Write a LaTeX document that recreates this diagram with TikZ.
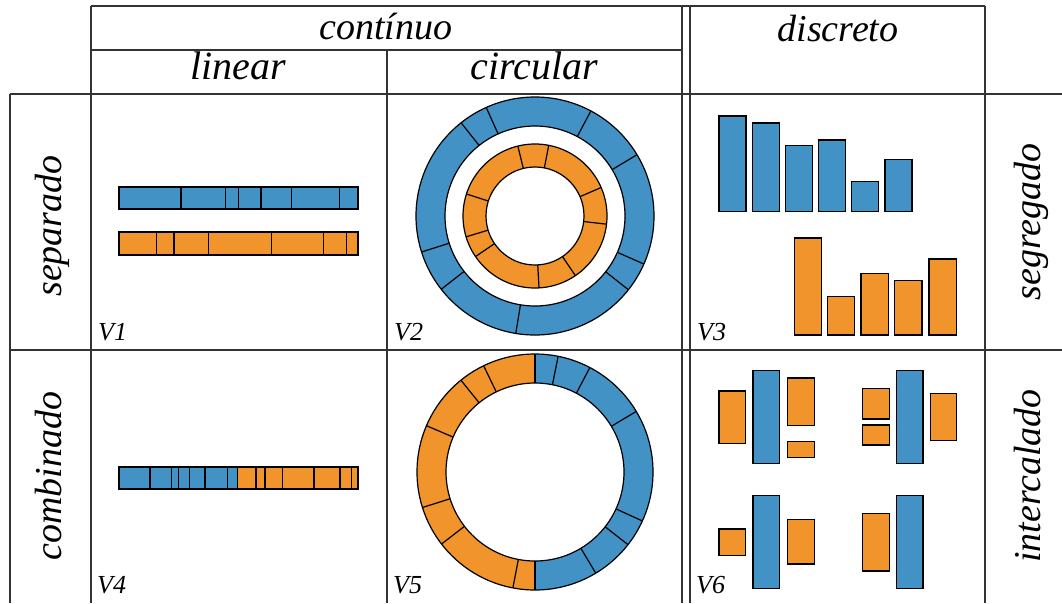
\documentclass[tikz,border=0pt]{standalone}
\usepackage{fontspec}
\setmainfont{Liberation Serif}
\definecolor{vblue}{HTML}{4292C6}
\definecolor{vorange}{HTML}{F1942B}
\definecolor{gridc}{HTML}{333333}
\tikzset{
  gridline/.style={line width=1.3pt, draw=gridc},
  outl/.style={line width=1.2pt, draw=black},
  rowlbl/.style={font=\fontsize{38}{40}\selectfont\itshape, inner sep=0pt, anchor=base, rotate=90},
  hdr/.style={font=\fontsize{38}{40}\selectfont\itshape, inner sep=0pt, anchor=base},
  subhdr/.style={font=\fontsize{40}{42}\selectfont\itshape, inner sep=0pt, anchor=base},
  vlbl/.style={font=\fontsize{26}{28}\selectfont\itshape, inner sep=0pt, anchor=base west}
}
\begin{document}
\begin{tikzpicture}[x=1pt,y=-1pt]
\useasboundingbox[fill=white] (0,0) rectangle (1062,603);
% grid
\draw[gridline] (91,6) -- (985,6);
\draw[gridline] (91,50) -- (682,50);
\draw[gridline] (10,94) -- (1062,94);
\draw[gridline] (10,350) -- (1062,350);
\foreach \x/\y in {10/94, 91/6, 387/50, 682/6, 690/6, 985/6}
  \draw[gridline] (\x,\y) -- (\x,603);
% headers
\node[hdr] (cont) at (386,39) {contínuo};
\node[hdr] (disc) at (838,41) {discreto};
\node[subhdr] (lin) at (238,79) {linear};
\node[subhdr] (circ) at (534,79) {circular};
\node[rowlbl] (sep) at (61,226) {separado};
\node[rowlbl] (comb) at (61,476) {combinado};
\node[rowlbl] (segr) at (1040,222) {segregado};
\node[rowlbl] (inter) at (1040,476) {intercalado};
% V labels
\node[vlbl] (v1) at (98,340) {V1};
\node[vlbl] (v2) at (394,340) {V2};
\node[vlbl] (v3) at (697,340) {V3};
\node[vlbl] (v4) at (97,593) {V4};
\node[vlbl] (v5) at (393,593) {V5};
\node[vlbl] (v6) at (696,593) {V6};
% V1
\filldraw[outl, fill=vblue] (119,187) rectangle (358,209);
\foreach \x in {181,225.3,238.3,261,291.7,339.3} \draw[outl] (\x,187) -- (\x,209);
\filldraw[outl, fill=vorange] (119,232) rectangle (358,255);
\foreach \x in {156.3,174,208.3,271.3,323.3,346.7} \draw[outl] (\x,232) -- (\x,255);
% V4
\fill[vblue] (119,467) rectangle (237.7,489);
\fill[vorange] (237.7,467) rectangle (358,489);
\foreach \x in {150,171.7,178.3,189.3,205,227.7,237.7,256,265,282.3,314,340,351.7} \draw[outl] (\x,467) -- (\x,489);
\draw[outl] (119,467) rectangle (358,489);
% V2
\coordinate (c2) at (535,216);
\fill[vblue, even odd rule] (c2) circle[radius=119pt] (c2) circle[radius=90pt];
\foreach \a in {128.4,114.2,62,31,-23.8,-38.3,-99.3,-142,-162.4}
  \draw[outl] (c2) ++(\a:90pt) -- ++(\a:29pt);
\draw[outl] (c2) circle[radius=119pt] (c2) circle[radius=90pt];
\fill[vorange, even odd rule] (c2) circle[radius=72pt] (c2) circle[radius=49pt];
\foreach \a in {162.2,103.8,79,23.3,-6.5,-55.9,-86.8,-145.7,-163.2}
  \draw[outl] (c2) ++(\a:49pt) -- ++(\a:23pt);
\draw[outl] (c2) circle[radius=72pt] (c2) circle[radius=49pt];
% V5
\coordinate (c5) at (535,472);
\fill[vorange] (c5) ++(90:118pt) arc[start angle=90,end angle=270,radius=118pt] -- ++(0pt,29pt) arc[start angle=270,end angle=90,radius=89pt] -- cycle;
\fill[vblue] (c5) ++(-90:118pt) arc[start angle=-90,end angle=90,radius=118pt] -- ++(0pt,-29pt) arc[start angle=90,end angle=-90,radius=89pt] -- cycle;
\foreach \a in {90,-90,78.7,62.3,30.9,-24.5,-38,-59,115.8,128.9,156.9,-162.5,-142.4,-100.8}
  \draw[outl] (c5) ++(\a:89pt) -- ++(\a:29pt);
\draw[outl] (c5) circle[radius=118pt] (c5) circle[radius=89pt];
% V3
\foreach \a/\b/\t in {719/746/116, 752.3/779.3/123, 785.3/812.3/145.3, 818.3/845.7/140, 851.3/878.7/181.7, 885/912/159.7}
  \filldraw[outl, fill=vblue] (\a,\t) rectangle (\b,211.7);
\foreach \a/\b/\t in {794.3/821.7/238, 827.3/854.7/296.3, 861/888.7/273.7, 894.3/922/280.3, 929/956.3/259}
  \filldraw[outl, fill=vorange] (\a,\t) rectangle (\b,335);
% V6
\foreach \a/\b/\t/\u in {719/745.3/391/443.7, 787.3/814.3/378/425.3, 787.3/814.3/441.3/457.3,
  862.7/889.3/388.3/419, 862.7/889.3/425/445, 930.3/956.7/393.7/440.7,
  719/745.3/529/555.3, 787.3/814.3/519.7/564, 862.7/889.3/513.3/571}
  \filldraw[outl, fill=vorange] (\a,\t) rectangle (\b,\u);
\foreach \a/\b/\t/\u in {753/779.7/370.3/463.3, 896.7/923/370.3/463.3, 753/779.7/495.7/588.7, 896.7/923/495.7/588.7}
  \filldraw[outl, fill=vblue] (\a,\t) rectangle (\b,\u);
\end{tikzpicture}
\end{document}
